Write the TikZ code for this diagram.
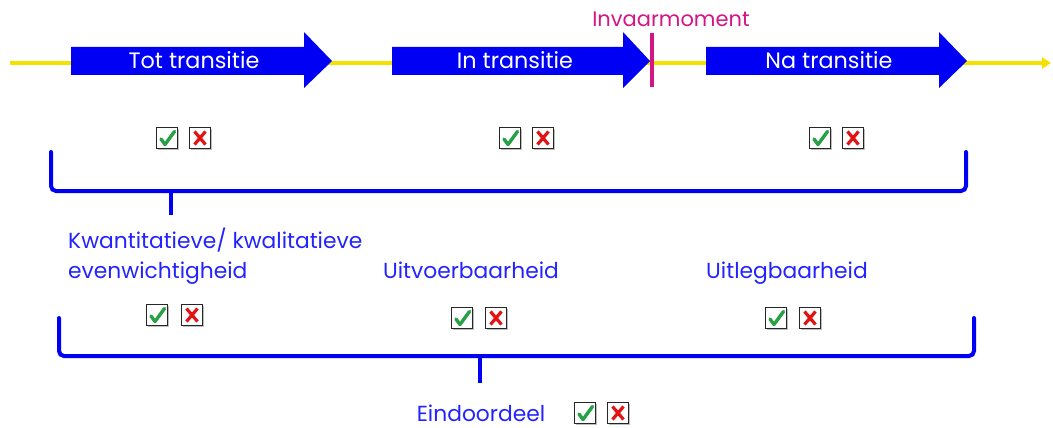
\documentclass[tikz,border=0pt]{standalone}
\usepackage{fontspec}
\setmainfont{Poppins}
\usetikzlibrary{arrows.meta}
\definecolor{phaseblue}{RGB}{0,0,245}
\definecolor{labelblue}{RGB}{35,35,255}
\definecolor{timeyellow}{RGB}{245,225,0}
\definecolor{momentpink}{RGB}{212,22,132}
\definecolor{okgreen}{RGB}{40,160,70}
\definecolor{nored}{RGB}{225,20,20}
\tikzset{
  phasetext/.style={text=white, font=\fontsize{22.3}{26}\selectfont, inner sep=0pt, anchor=base},
  crit/.style={text=labelblue, font=\fontsize{21.8}{28}\selectfont, inner sep=0pt, anchor=base},
  brace/.style={draw=phaseblue, line width=4pt, rounded corners=5pt, line cap=round},
  stem/.style={draw=phaseblue, line width=3.5pt},
  boxframe/.style={draw=black!85, line width=1.6pt, fill=white},
  pics/okbox/.style={code={
    \fill[black!25] (-9.5,-9.5) rectangle (12,12);
    \draw[boxframe] (-10.5,-10.5) rectangle (10.5,10.5);
    \draw[okgreen, line width=3.4pt, line cap=round, line join=round]
      (-6,1) -- (-2,6.5) -- (7.5,-6.5);
  }},
  pics/nobox/.style={code={
    \fill[black!25] (-9.5,-9.5) rectangle (12,12);
    \draw[boxframe] (-10.5,-10.5) rectangle (10.5,10.5);
    \draw[nored, line width=3.2pt] (-5.5,-6.5) -- (5.5,6.5) (5.5,-6.5) -- (-5.5,6.5);
  }},
}
\begin{document}
\begin{tikzpicture}[x=1pt,y=-1pt]
\useasboundingbox (0,0) rectangle (1053,428);

% time line
\coordinate (tstart) at (10,63);
\coordinate (tend) at (1051,63);
\draw[timeyellow, line width=4.5pt, -{Triangle[length=9pt,width=11pt]}] (tstart) -- (tend);

% phase arrows
\fill[phaseblue] (71,47) -- (304,47) -- (304,32) -- (332,61) -- (304,88) -- (304,75) -- (71,75) -- cycle;
\node[phasetext] (tot) at (194,69) {Tot transitie};
\fill[phaseblue] (392,47) -- (623,47) -- (623,32) -- (650,61) -- (623,88) -- (623,75) -- (392,75) -- cycle;
\node[phasetext] (in) at (515,69) {In transitie};
\fill[phaseblue] (706,47) -- (939,47) -- (939,32) -- (967,61) -- (939,88) -- (939,75) -- (706,75) -- cycle;
\node[phasetext] (na) at (829,69) {Na transitie};

% boarding moment
\coordinate (mtop) at (652,33);
\coordinate (mbot) at (652,87);
\draw[momentpink, line width=3.5pt] (mtop) -- (mbot);
\node[text=momentpink, font=\fontsize{21}{24}\selectfont, inner sep=0pt, anchor=base] (inv) at (671,27) {Invaarmoment};

% per-phase checks
\pic at (167,138) {okbox};
\pic at (200,138) {nobox};
\pic at (510,138) {okbox};
\pic at (543,138) {nobox};
\pic at (820,138) {okbox};
\pic at (853,138) {nobox};

% first brace
\draw[brace] (51,152) -- (51,191) -- (966,191) -- (966,152);
\coordinate (s1top) at (171,191);
\coordinate (s1bot) at (171,215);
\draw[stem] (s1top) -- (s1bot);

% criteria
\node[crit, anchor=base west] (kw1) at (68,248) {Kwantitatieve/ kwalitatieve};
\node[crit, anchor=base west] (kw2) at (68,278) {evenwichtigheid};
\node[crit] (uitv) at (471,278) {Uitvoerbaarheid};
\node[crit] (uitl) at (787,278) {Uitlegbaarheid};

\pic at (157,315) {okbox};
\pic at (192,315) {nobox};
\pic at (462,318) {okbox};
\pic at (496,318) {nobox};
\pic at (776,318) {okbox};
\pic at (810,318) {nobox};

% second brace
\draw[brace] (59,318) -- (59,356) -- (974,356) -- (974,318);
\coordinate (s2top) at (480,356);
\coordinate (s2bot) at (480,383);
\draw[stem] (s2top) -- (s2bot);

% final verdict
\node[crit] (eind) at (481,421) {Eindoordeel};
\pic at (585,413) {okbox};
\pic at (618,413) {nobox};
\end{tikzpicture}
\end{document}
